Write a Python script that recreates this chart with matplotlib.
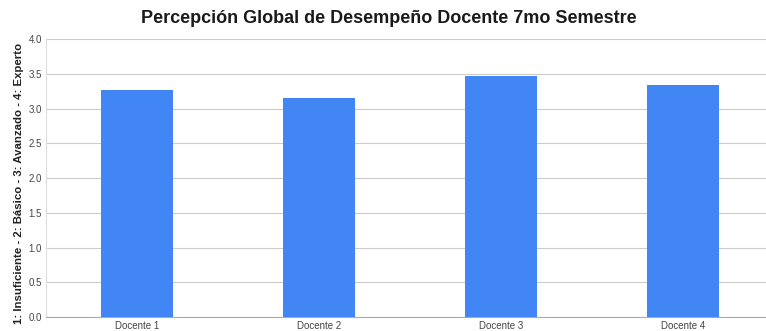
import matplotlib.pyplot as plt

docentes = ['Docente 1', 'Docente 2', 'Docente 3', 'Docente 4']
promedios = [3.27, 3.15, 3.47, 3.34]
yticks = [0.0, 0.5, 1.0, 1.5, 2.0, 2.5, 3.0, 3.5, 4.0]

plt.rcParams['font.family'] = ['Liberation Sans', 'DejaVu Sans']

fig = plt.figure(figsize=(7.66, 3.31), dpi=100)
ax = fig.add_axes([0.060, 0.042, 0.940, 0.840])
ax.bar(range(len(docentes)), promedios, width=0.4, color='#4285f4', zorder=3)

ax.set_xlim(-0.5, 3.456)
ax.set_ylim(0, 4)
ax.set_yticks(yticks)
ax.set_yticklabels(['%.1f' % v for v in yticks])
ax.set_xticks(range(len(docentes)))
ax.set_xticklabels(docentes)
ax.tick_params(axis='both', length=0, labelsize=7, colors='#444444', pad=3)
ax.grid(axis='y', color='#cccccc', linewidth=0.8, zorder=0)

for side in ['top', 'right']:
    ax.spines[side].set_visible(False)
ax.spines['left'].set_color('#dddddd')
ax.spines['bottom'].set_color('#aaaaaa')

ax.set_ylabel('1: Insuficiente - 2: Básico - 3: Avanzado - 4: Experto',
              fontsize=8.2, fontweight='bold', color='#222222',
              va='center')
ax.yaxis.set_label_coords(-0.038, 0.482)
fig.text(0.508, 0.944, 'Percepción Global de Desempeño Docente 7mo Semestre',
         ha='center', va='center', fontsize=13, fontweight='bold', color='#1a1a1a')

fig.savefig('out.png', dpi=100)
